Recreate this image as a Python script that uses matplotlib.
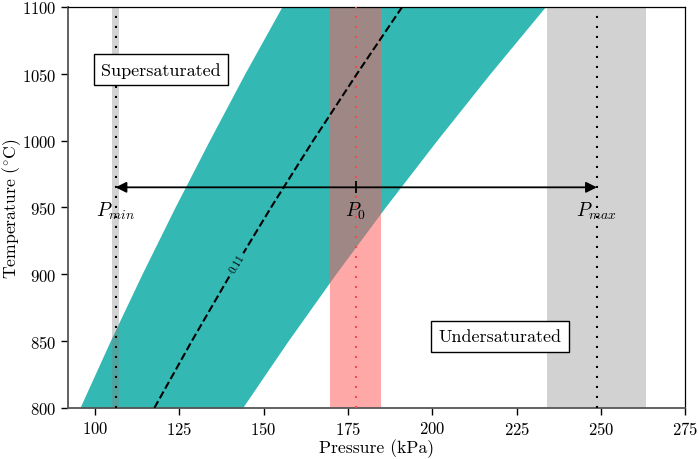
import matplotlib
matplotlib.use('Agg')
import matplotlib.pyplot as plt

plt.rcParams['font.family'] = 'serif'
plt.rcParams['font.serif'] = ['cmr10']
plt.rcParams['mathtext.fontset'] = 'cm'
plt.rcParams['axes.formatter.use_mathtext'] = True

# temperatura (°C) e pressões (kPa)
temp = [800, 850, 900, 950, 1000, 1050, 1100]
p_baixo = [95.5, 104.5, 113.9, 123.7, 133.9, 144.4, 155.4]
p_centro = [117.6, 128.7, 140.2, 152.2, 164.7, 177.7, 191.1]
p_cima = [143.7, 157.2, 171.3, 186.0, 201.3, 217.1, 233.5]

p_min = 106.1
p_0 = 177.3
p_max = 248.8
faixa_min = [105.1, 107.2]
faixa_0 = [169.6, 184.9]
faixa_max = [233.9, 263.4]
t_seta = 965

teal = '#33b8b4'

fig = plt.figure(figsize=(6.99, 4.6), dpi=100)
ax = fig.add_axes([0.0973, 0.111, 0.883, 0.872])

ax.fill_betweenx(temp, p_baixo, p_cima, color=teal, lw=0, zorder=1)

ax.axvspan(faixa_min[0], faixa_min[1], color='gray', alpha=0.35, lw=0, zorder=2)
ax.axvspan(faixa_max[0], faixa_max[1], color='gray', alpha=0.35, lw=0, zorder=2)
ax.axvspan(faixa_0[0], faixa_0[1], color=(1.0, 0.36, 0.36), alpha=0.53, lw=0, zorder=2)

ax.axvline(p_min, color='k', ls=(0, (1, 3.8)), lw=1.5, zorder=3)
ax.axvline(p_max, color='k', ls=(0, (1, 3.8)), lw=1.5, zorder=3)
ax.axvline(p_0, color=(0.95, 0.3, 0.3), ls=(0, (1, 3.8)), lw=1.5, zorder=3)

ax.plot(p_centro, temp, 'k--', lw=1.5, zorder=4)
ax.text(142.2, 908, '0.11', fontsize=8, rotation=59, ha='center', va='center',
        zorder=5, bbox=dict(facecolor=teal, edgecolor='none', pad=1.5))

# seta entre P_min e P_max
ax.annotate('', xy=(p_min, t_seta), xytext=(p_max, t_seta),
            arrowprops=dict(arrowstyle='<|-|>', color='k', lw=1.3,
                            mutation_scale=16, shrinkA=0, shrinkB=0), zorder=6)
ax.plot([p_0], [t_seta], marker='|', color='k', ms=8, mew=1.3, zorder=6)

ax.text(p_min, 948, r'$P_{min}$', fontsize=14, ha='center', va='center', zorder=6)
ax.text(p_0, 948, r'$P_0$', fontsize=14, ha='center', va='center', zorder=6)
ax.text(p_max, 948, r'$P_{max}$', fontsize=14, ha='center', va='center', zorder=6)

caixa = dict(facecolor='white', edgecolor='k', pad=5.5, lw=1)
ax.text(119.6, 1053, 'Supersaturated', fontsize=13, ha='center', va='center',
        bbox=caixa, zorder=7)
ax.text(220.2, 853.6, 'Undersaturated', fontsize=13, ha='center', va='center',
        bbox=caixa, zorder=7)

ax.set_xlim(92, 275)
ax.set_ylim(800, 1100)
ax.set_xticks(range(100, 276, 25))
ax.set_yticks(range(800, 1101, 50))
ax.tick_params(labelsize=12, length=5, width=1)
ax.set_xlabel('Pressure (kPa)', fontsize=12.7, labelpad=1)
ax.set_ylabel(r'Temperature ($^{\circ}$C)', fontsize=12.7)
ax.yaxis.set_label_coords(-0.0735, 0.5)

for lado in ['left', 'bottom']:
    ax.spines[lado].set_color('#555555')
    ax.spines[lado].set_linewidth(1.3)
for lado in ['top', 'right']:
    ax.spines[lado].set_color('k')
    ax.spines[lado].set_linewidth(0.9)

plt.savefig('out.png', dpi=100)
